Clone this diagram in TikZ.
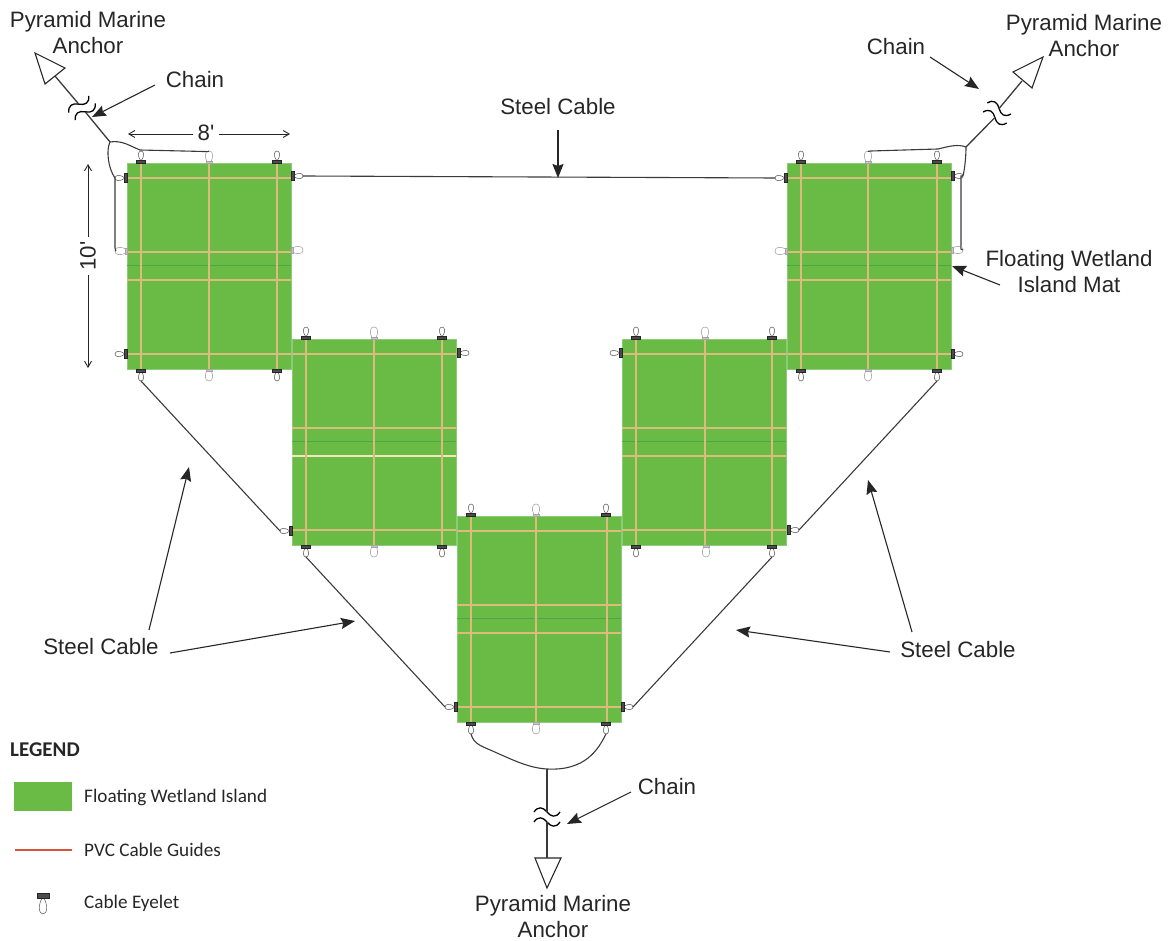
\documentclass[tikz,border=0pt]{standalone}
\usepackage{fontspec}
\setmainfont{Liberation Sans}
\newfontfamily\legendfont{Carlito}
\usetikzlibrary{arrows.meta}
\definecolor{matgreen}{HTML}{6ABB46}
\definecolor{matedge}{HTML}{8CCB78}
\definecolor{guide}{HTML}{DCBC7C}
\definecolor{guidelight}{HTML}{F3E6B8}
\definecolor{seam}{HTML}{48A84A}
\definecolor{inkc}{HTML}{262626}
\definecolor{cablec}{HTML}{3A3A3A}
\definecolor{redline}{HTML}{D9533C}
\tikzset{
  x=1pt,y=-1pt,
  matbox/.style={fill=matgreen,draw=matedge,line width=.5pt,minimum width=164pt,minimum height=206pt,inner sep=0pt,anchor=north west},
  guideline/.style={draw=guide,line width=1.05pt},
  seamline/.style={draw=seam,line width=.9pt},
  cable/.style={draw=cablec,line width=1.1pt},
  chainline/.style={draw=cablec,line width=1.3pt},
  anchorshape/.style={draw=inkc,line width=1.1pt,line join=miter,fill=white},
  callout/.style={draw=inkc,line width=1.1pt,-{Stealth[length=14pt,width=11pt,inset=2pt]}},
  dimline/.style={draw=inkc,line width=.9pt,-{Straight Barb[length=6pt,width=7pt]}},
  lbl/.style={font=\fontsize{22.3}{26}\selectfont,text=inkc,inner sep=0pt,align=center},
  leg/.style={font=\legendfont\fontsize{19.2}{22}\selectfont,text=inkc,inner sep=0pt,anchor=west},
  eyelet/.pic={
    \draw[gray!80!black,line width=.6pt,fill=white] (0,-2) .. controls (-4,-7) and (-3,-12) .. (0,-12) .. controls (3,-12) and (4,-7) .. (0,-2) -- cycle;
    \fill[black!70,draw=black!85,line width=.4pt] (-4.5,-3) rectangle (4.5,0);
    \coordinate (-tip) at (0,-12);
  },
  plainloop/.pic={
    \draw[gray!70,line width=.6pt,fill=white] (-2,-1) .. controls (-4.5,-6) and (-4.5,-12) .. (0,-12) .. controls (4.5,-12) and (4.5,-6) .. (2,-1) -- cycle;
    \fill[gray!45,draw=gray!70,line width=.3pt] (-3,-2) rectangle (3,0);
    \coordinate (-tip) at (0,-12);
  },
  breakmark/.pic={
    \draw[draw=black,line width=1.3pt] (-13,-5) .. controls (-9,-11) and (-4,-10) .. (0,-5) .. controls (4,0) and (9,1) .. (13,-5);
    \draw[draw=black,line width=1.3pt] (-13,5) .. controls (-9,-1) and (-4,-0) .. (0,5) .. controls (4,10) and (9,11) .. (13,5);
    \coordinate (-a) at (0,-5);
    \coordinate (-b) at (0,5);
  },
}
% name, x, y, colour of the fourth rail, offset of the middle rail
\newcommand{\wetmat}[5]{%
  \begin{scope}[shift={(#2,#3)}]
    \node[matbox] (#1) at (0,0) {};
    \draw[seamline] (0,102) -- (164,102);
    \foreach \yy in {15,89,191} \draw[guideline] (0,\yy) -- (164,\yy);
    \draw[draw=#4,line width=1.05pt] (0,117) -- (164,117);
    \foreach \xx in {14,#5,150} \draw[guideline] (\xx,0) -- (\xx,206);
  \end{scope}}
\begin{document}
\begin{tikzpicture}
\useasboundingbox (0,0) rectangle (1173,941);
% mats
\wetmat{mone}{127}{163}{guide}{82}
\wetmat{mtwo}{292}{339}{guidelight}{82}
\wetmat{mthree}{457}{516}{guide}{79}
\wetmat{mfour}{622}{339}{guide}{83}
\wetmat{mfive}{787}{163}{guide}{81}
% eyelets on mat 1
\pic (atl) at (141,163) {eyelet};
\pic (atm) at (209,163) {plainloop};
\pic (atr) at (277,163) {eyelet};
\pic (abl) [rotate=180] at (141,369) {eyelet};
\pic (abm) [rotate=180] at (209,369) {plainloop};
\pic (abr) [rotate=180] at (277,369) {eyelet};
\pic (alt) [rotate=90] at (127,178) {eyelet};
\pic (alm) [rotate=90] at (127,251) {plainloop};
\pic (alb) [rotate=90] at (127,354) {eyelet};
\pic (art) [rotate=270] at (291,176) {eyelet};
\pic (arm) [rotate=270] at (291,250) {plainloop};
% mat 2
\pic (btl) at (306,339) {eyelet};
\pic (btm) at (374,339) {plainloop};
\pic (btr) at (442,339) {eyelet};
\pic (bbl) [rotate=180] at (306,545) {eyelet};
\pic (bbm) [rotate=180] at (374,545) {plainloop};
\pic (bbr) [rotate=180] at (442,545) {eyelet};
\pic (brt) [rotate=270] at (457,353) {eyelet};
\pic (blb) [rotate=90] at (292,531) {eyelet};
% mat 3
\pic (ctl) at (471,516) {eyelet};
\pic (ctm) at (536,516) {plainloop};
\pic (ctr) at (606,516) {eyelet};
\pic (cbl) [rotate=180] at (471,722) {eyelet};
\pic (cbm) [rotate=180] at (536,722) {plainloop};
\pic (cbr) [rotate=180] at (606,722) {eyelet};
\pic (clb) [rotate=90] at (457,707) {eyelet};
\pic (crb) [rotate=270] at (621,707) {eyelet};
% mat 4
\pic (dtl) at (636,339) {eyelet};
\pic (dtm) at (705,339) {plainloop};
\pic (dtr) at (772,339) {eyelet};
\pic (dbl) [rotate=180] at (636,545) {eyelet};
\pic (dbm) [rotate=180] at (706,545) {plainloop};
\pic (dbr) [rotate=180] at (772,545) {eyelet};
\pic (dlt) [rotate=90] at (622,353) {eyelet};
\pic (drb) [rotate=270] at (787,530) {eyelet};
% mat 5
\pic (etl) at (801,163) {eyelet};
\pic (etm) at (868,163) {plainloop};
\pic (etr) at (937,163) {eyelet};
\pic (ebl) [rotate=180] at (801,369) {eyelet};
\pic (ebm) [rotate=180] at (868,369) {plainloop};
\pic (ebr) [rotate=180] at (937,369) {eyelet};
\pic (elt) [rotate=90] at (787,178) {eyelet};
\pic (elm) [rotate=90] at (787,251) {plainloop};
\pic (ert) [rotate=270] at (951,176) {eyelet};
\pic (erm) [rotate=270] at (951,250) {plainloop};
\pic (erb) [rotate=270] at (951,354) {eyelet};
% steel cables
\draw[cable] (art-tip) -- (elt-tip);
\draw[cable] (abl-tip) -- (blb-tip);
\draw[cable] (bbl-tip) -- (clb-tip);
\draw[cable] (ebr-tip) -- (drb-tip);
\draw[cable] (dbr-tip) -- (crb-tip);
% top-left rigging
\coordinate (tlknot) at (110,142);
\pic (tlbreak) [rotate=40] at (82,108) {breakmark};
\coordinate (tlbase) at (55,76);
\draw[anchorshape] (35,53) -- (65,68) -- (45,84) -- cycle;
\draw[chainline] (tlbase) -- (tlbreak-a);
\draw[chainline] (tlbreak-b) -- (tlknot);
\draw[cable] (tlknot) .. controls (106,150) and (108,168) .. (alt-tip);
\draw[cable] (tlknot) .. controls (122,140) and (130,146) .. (140,150) -- (204,151.5) .. controls (208,151.5) and (209,152) .. (atm-tip);
\draw[cable] (alt-tip) -- (115,178) -- (115,248) .. controls (115,251) and (117,251) .. (alm-tip);
% top-right rigging
\coordinate (trknot) at (966,147);
\pic (trbreak) [rotate=-25] at (997,113) {breakmark};
\coordinate (trbase) at (1022,81);
\draw[anchorshape] (1043,57) -- (1013,72) -- (1032,88) -- cycle;
\draw[chainline] (trbase) -- (trbreak-a);
\draw[chainline] (trbreak-b) -- (trknot);
\draw[cable] (trknot) .. controls (958,144) and (950,146) .. (938,149) -- (871,151) .. controls (868,151) and (868,152) .. (etm-tip);
\draw[cable] (trknot) .. controls (966,155) and (965,168) .. (ert-tip);
\draw[cable] (ert-tip) -- (961,176) -- (961,245) .. controls (961,249) and (960,250) .. (erm-tip);
% bottom rigging
\coordinate (btknot) at (547,769);
\pic (btbreak) at (547,817) {breakmark};
\coordinate (btbase) at (547,858);
\draw[anchorshape] (535,858) -- (561,858) -- (547,888) -- cycle;
\draw[chainline] (btknot) -- (btbreak-a);
\draw[chainline] (btbreak-b) -- (btbase);
\draw[cable] (cbl-tip) .. controls (474,745) and (482,746) .. (497,753) .. controls (515,761) and (530,768) .. (btknot);
\draw[cable] (btknot) .. controls (585,771) and (598,750) .. (cbr-tip);
% dimensions
\node[lbl] (dimw) at (206,133) {8\textquotesingle};
\node[lbl,rotate=90] (dimh) at (88,256) {10\textquotesingle};
\draw[dimline] (dimw.west) ++(-4,1) -- (128,134);
\draw[dimline] (dimw.east) ++(4,1) -- (290,134);
\draw[dimline] (dimh.east) ++(0,-4) -- (88,164);
\draw[dimline] (dimh.west) ++(0,4) -- (88,368);
% labels
\node[lbl] (anchorTL) at (88,33) {Pyramid Marine\\Anchor};
\node[lbl] (anchorTR) at (1084,36) {Pyramid Marine\\Anchor};
\node[lbl] (anchorB) at (553,917) {Pyramid Marine\\Anchor};
\node[lbl] (chainTL) at (195,80) {Chain};
\node[lbl] (chainTR) at (896,47) {Chain};
\node[lbl] (chainB) at (667,787) {Chain};
\node[lbl] (steelT) at (558,107) {Steel Cable};
\node[lbl] (steelL) at (101,647) {Steel Cable};
\node[lbl] (steelR) at (958,650) {Steel Cable};
\node[lbl] (matlabel) at (1069,272) {Floating Wetland\\Island Mat};
% callouts
\coordinate (c1s) at (155,85); \coordinate (c1t) at (92,117);
\coordinate (c2s) at (930,57); \coordinate (c2t) at (979,89);
\coordinate (c3s) at (631,792); \coordinate (c3t) at (567,824);
\coordinate (c4s) at (558,130); \coordinate (c4t) at (558,178);
\coordinate (c5s) at (149,630); \coordinate (c5t) at (189,467);
\coordinate (c6s) at (170,653); \coordinate (c6t) at (355,621);
\coordinate (c7s) at (890,652); \coordinate (c7t) at (736,630);
\coordinate (c8s) at (912,632); \coordinate (c8t) at (868,480);
\coordinate (c9s) at (1000,285); \coordinate (c9t) at (952,266);
\foreach \n in {1,...,9} \draw[callout] (c\n s) -- (c\n t);
% legend
\node[font=\legendfont\bfseries\fontsize{21}{24}\selectfont,text=inkc,inner sep=0pt,anchor=west] (legtitle) at (10,750) {LEGEND};
\node[fill=matgreen,inner sep=0pt,minimum width=58pt,minimum height=29pt] (legmat) at (43,796.5) {};
\node[leg] (legmattxt) at (84,797) {Floating Wetland Island};
\coordinate (lega) at (15,850); \coordinate (legb) at (72,850);
\draw[draw=redline,line width=1.4pt] (lega) -- (legb);
\node[leg] (legpvctxt) at (84,850) {PVC Cable Guides};
\pic (legeye) [rotate=180,xscale=1.4,yscale=1.75] at (43,893) {eyelet};
\node[leg] (legeyetxt) at (84,903) {Cable Eyelet};
\end{tikzpicture}
\end{document}
